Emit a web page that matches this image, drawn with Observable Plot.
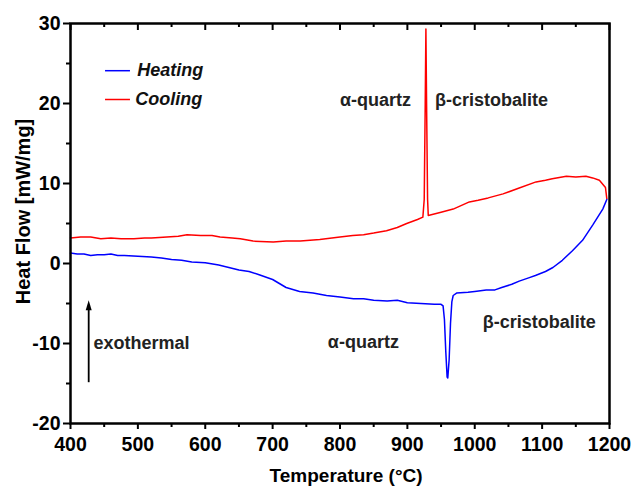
<!DOCTYPE html>
<html><head><meta charset="utf-8">
<script src="https://cdn.jsdelivr.net/npm/d3@7"></script>
<script src="https://cdn.jsdelivr.net/npm/@observablehq/plot@0.6"></script>
<style>body{margin:0;background:#fff}</style>
</head><body><div id="chart"></div><script>
// Heating curve (blue)
const heatingT = [400,410,420,430,440,450,460,470,480,500,520,535,550,565,580,600,620,635,650,665,680,700,720,740,760,780,800,820,835,850,870,885,900,920,940,950,953,955,957,959,960,962,964,966,968,973,990,1000,1017,1030,1040,1055,1066,1080,1090,1105,1116,1130,1145,1160,1175,1190,1196];
const heatingV = [1.3,1.2,1.2,1.0,1.1,1.1,1.2,1.0,1.0,0.9,0.8,0.7,0.5,0.4,0.2,0.1,-0.2,-0.5,-0.8,-1.0,-1.4,-2.0,-3.0,-3.5,-3.7,-4.0,-4.2,-4.4,-4.4,-4.6,-4.7,-4.6,-4.9,-5.0,-5.1,-5.1,-5.3,-7.0,-11.0,-14.2,-14.3,-12.0,-7.5,-4.8,-4.0,-3.7,-3.6,-3.5,-3.3,-3.3,-3.0,-2.6,-2.2,-1.8,-1.5,-1.0,-0.5,0.4,1.6,2.9,4.8,6.8,8.0];
// Cooling curve (red)
const coolingT = [400,415,430,445,460,475,494,510,520,543,560,573,593,610,622,640,652,671,701,720,741,770,800,819,835,850,869,885,899,915,923,925,926.5,927.5,928.5,930,931,950,968,992,1005,1020,1042,1065,1091,1105,1115,1136,1150,1165,1175,1185,1194,1196];
const coolingV = [3.2,3.3,3.3,3.1,3.2,3.1,3.1,3.2,3.2,3.3,3.4,3.6,3.5,3.5,3.3,3.2,3.1,2.8,2.7,2.8,2.8,3.0,3.3,3.5,3.6,3.8,4.1,4.5,5.0,5.5,5.8,8.0,20.0,29.3,20.0,8.0,6.0,6.4,6.8,7.7,7.9,8.2,8.7,9.4,10.2,10.4,10.6,10.9,10.8,10.9,10.7,10.4,9.5,8.1];

const xTicks = [400,500,600,700,800,900,1000,1100,1200];
const xMinor = [450,550,650,750,850,950,1050,1150];
const yTicks = [-20,-10,0,10,20,30];
const yMinor = [-15,-5,5,15,25];

const seriesNames = ["Heating","Cooling"];
const seriesColors = ["#0000ff","#ff0000"];

const annotations = [
  {text:"α-quartz", x:800, y:20.4},
  {text:"β-cristobalite", x:941, y:20.4},
  {text:"α-quartz", x:782, y:-9.9},
  {text:"β-cristobalite", x:1012, y:-7.4},
  {text:"exothermal", x:434, y:-10.0}
];

const heating = heatingT.map((t,i)=>({t, v:heatingV[i]}));
const cooling = coolingT.map((t,i)=>({t, v:coolingV[i]}));
const legend = [
  {name:seriesNames[0], color:seriesColors[0], x1:452, x2:489, tx:499, y:24.1},
  {name:seriesNames[1], color:seriesColors[1], x1:452, x2:489, tx:496, y:20.5}
];

const font = "Liberation Sans, Arial, sans-serif";
const headShape = {draw(ctx, l, r){ ctx.moveTo(0,0); ctx.lineTo(-3,l); ctx.lineTo(3,l); ctx.closePath(); }};
const blank = () => "";
const plain = d => String(d);

const chart = Plot.plot({
  width: 634, height: 486,
  marginLeft: 70, marginRight: 25, marginTop: 23, marginBottom: 63,
  style: {fontFamily: font, fontWeight: "bold", color: "black", background: "white"},
  x: {domain: [400,1200]},
  y: {domain: [-20,30]},
  marks: [
    Plot.line(cooling, {x:"t", y:"v", stroke: seriesColors[1], strokeWidth: 1.5}),
    Plot.line(heating, {x:"t", y:"v", stroke: seriesColors[0], strokeWidth: 1.5}),
    Plot.frame({stroke:"black", strokeWidth: 2.5}),
    Plot.axisX({ticks: xTicks, anchor:"bottom", tickSize: 6, tickPadding: 8, fontSize: 19.5, fontWeight:"bold", strokeWidth: 2, tickFormat: plain, label: null}),
    Plot.axisX({ticks: xMinor, anchor:"bottom", tickSize: 4, strokeWidth: 2, tickFormat: blank, label: null}),
    Plot.ruleX(xTicks, {x: d=>d, y1: 30, y2: 30-0.875, strokeWidth: 2}),
    Plot.ruleX(xMinor, {x: d=>d, y1: 30, y2: 30-0.5, strokeWidth: 2}),
    Plot.axisY({ticks: yTicks, anchor:"left", tickSize: 7, tickPadding: 3, fontSize: 19.5, fontWeight:"bold", strokeWidth: 2, tickFormat: plain, label: null}),
    Plot.axisY({ticks: yMinor, anchor:"left", tickSize: 4, strokeWidth: 2, tickFormat: blank, label: null}),
    Plot.text(["Temperature (°C)"], {frameAnchor:"bottom", x: 809, dy: 52, textAnchor:"middle", lineAnchor:"middle", fontSize: 19, fontWeight:"bold", fill:"black"}),
    Plot.text(["Heat Flow [mW/mg]"], {frameAnchor:"left", y: 6.5, dx: -47, rotate: -90, textAnchor:"middle", lineAnchor:"middle", fontSize: 20, fontWeight:"bold", fill:"black"}),
    Plot.ruleY(legend, {y:"y", x1:"x1", x2:"x2", stroke:"color", strokeWidth: 1.5}),
    Plot.text(legend, {x:"tx", y:"y", text:"name", textAnchor:"start", fontSize: 18, fontWeight:"bold", fontStyle:"italic", fill:"#111"}),
    Plot.text(annotations, {x:"x", y:"y", text:"text", textAnchor:"start", fontSize: 18, fontWeight:"bold", fill:"#222"}),
    Plot.ruleX([427], {x: d=>d, y1: -14.9, y2: -5.6, stroke:"black", strokeWidth: 1.8}),
    Plot.vector([427], {x: d=>d, y: -4.6, length: 10, anchor:"start", rotate: 0, shape: headShape, fill:"black", stroke:"none"})
  ]
});
document.getElementById("chart").appendChild(chart);
</script></body></html>
